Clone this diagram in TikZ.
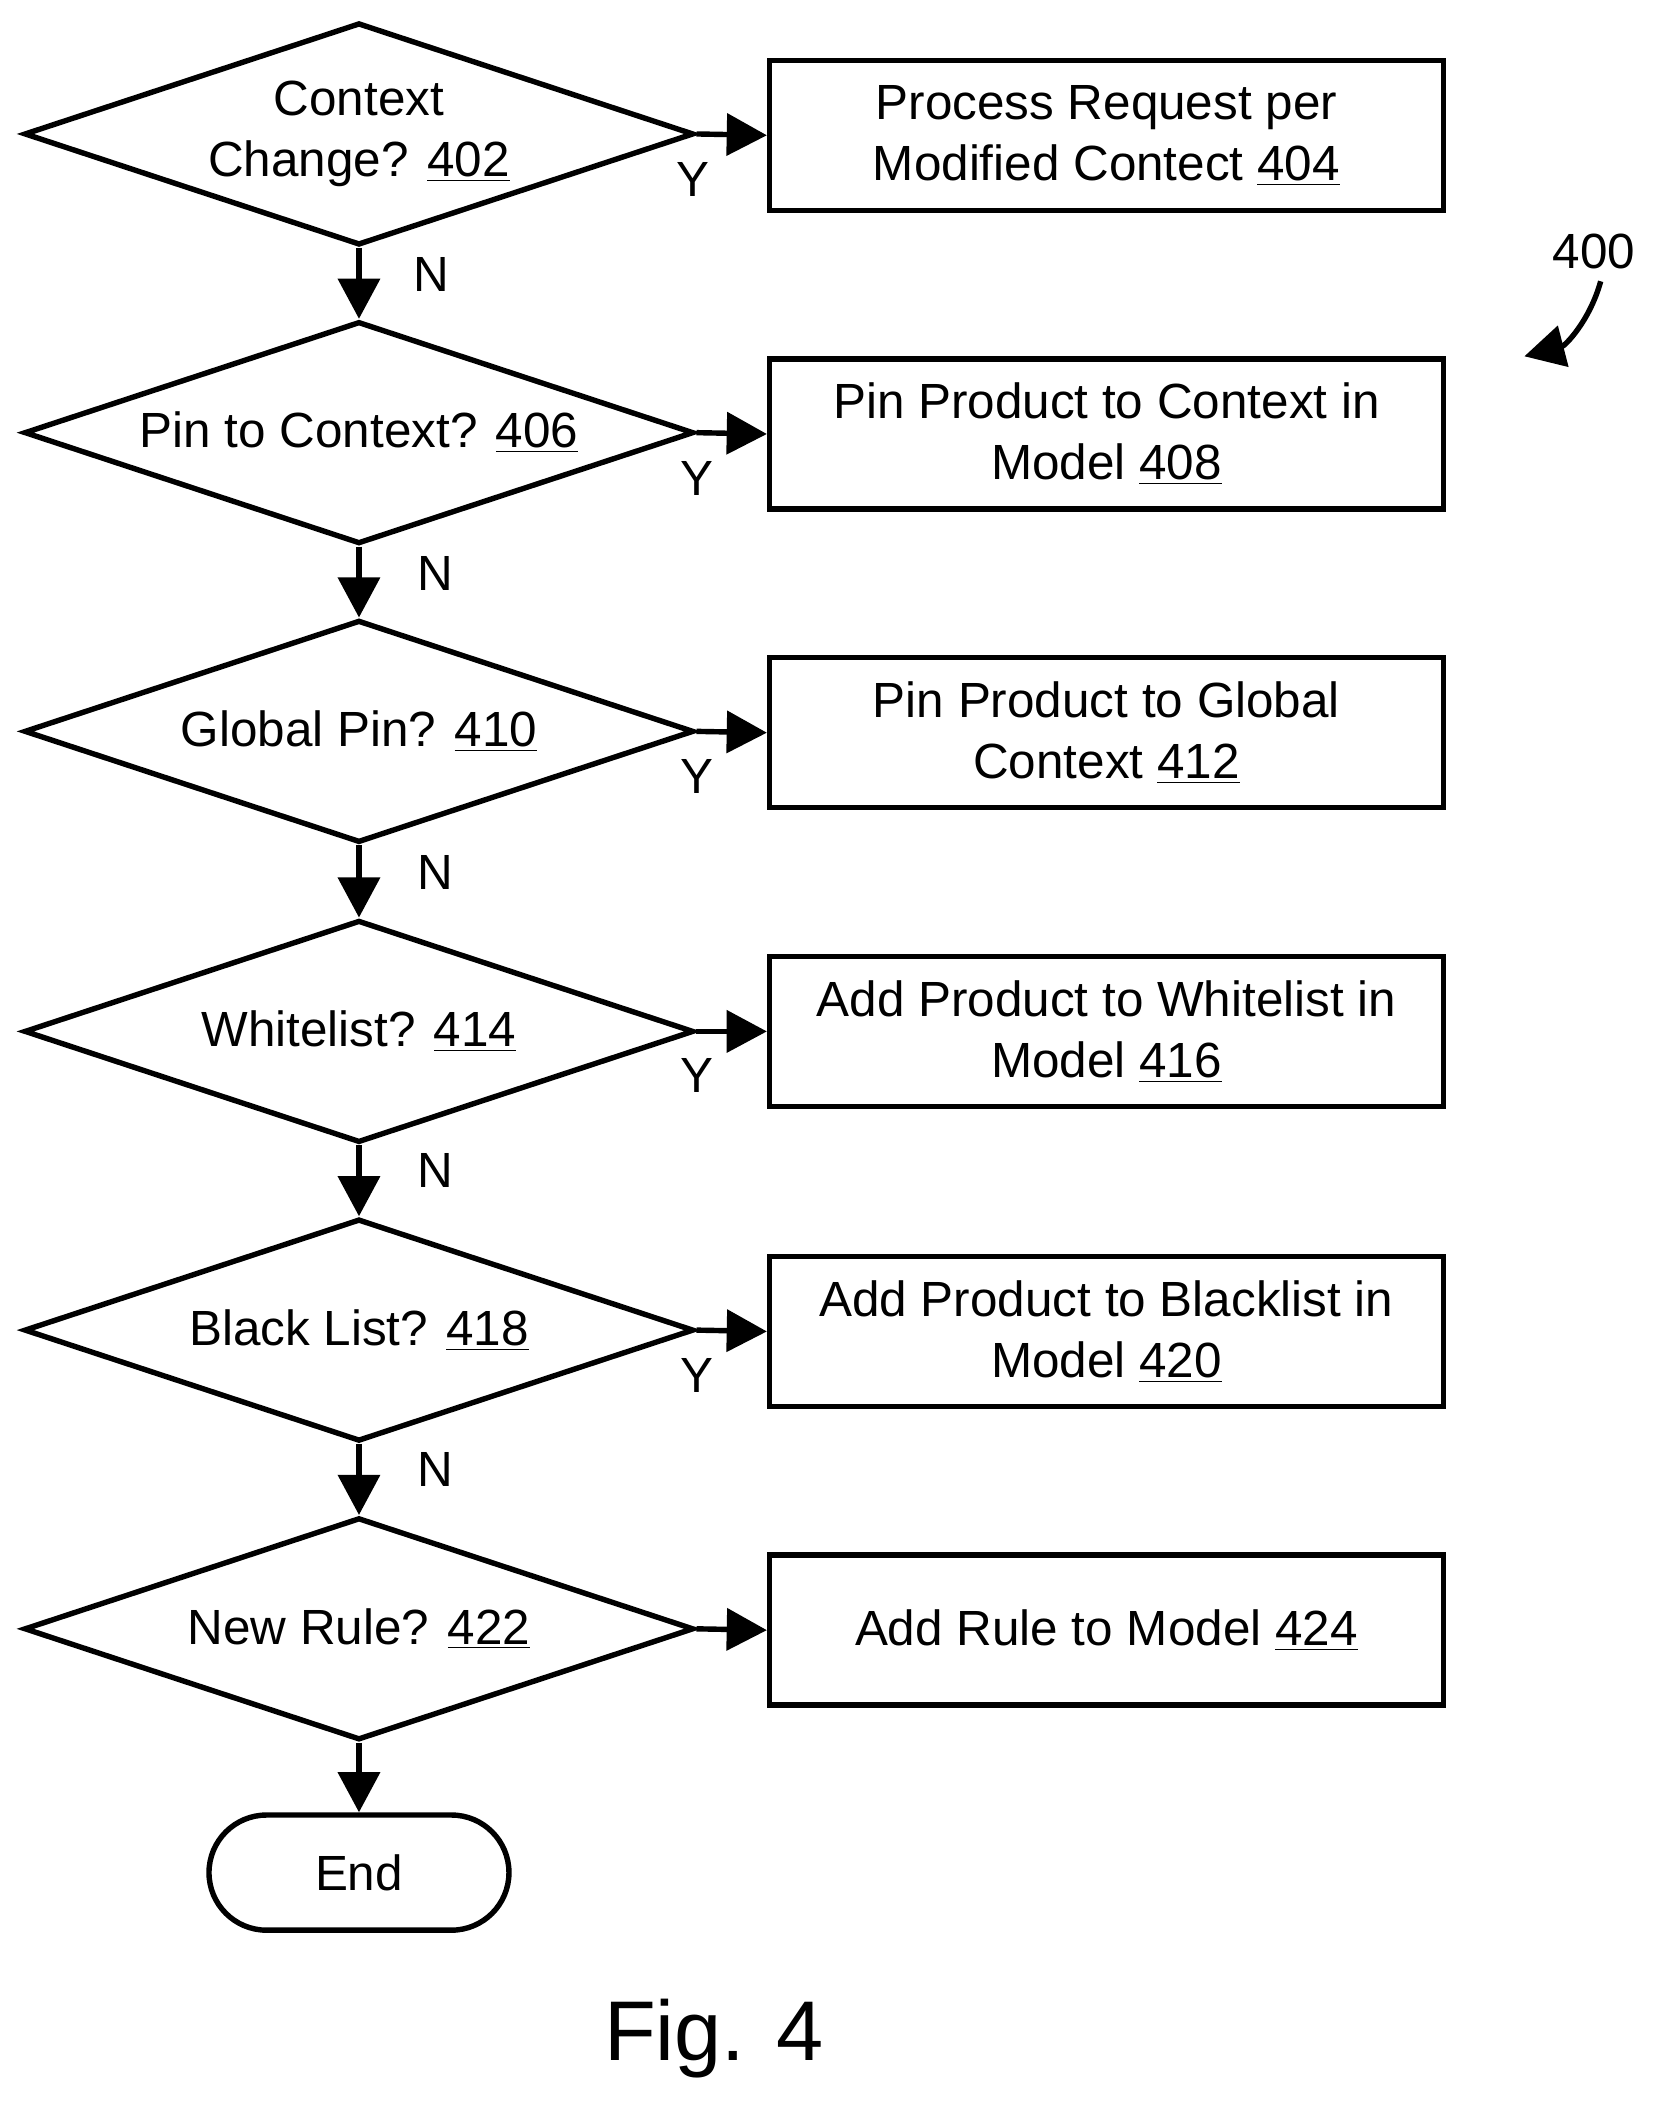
\documentclass[tikz,border=0pt]{standalone}
\usepackage{fontspec}
\setmainfont{Liberation Sans}
\usetikzlibrary{shapes.geometric,arrows.meta}
\tikzset{
  dec/.style={draw, diamond, line width=2.3pt, minimum width=10cm, minimum height=3.32cm, inner sep=0pt},
  blk/.style={draw, rectangle, line width=2.3pt, minimum width=10.06cm, minimum height=2.24cm, align=center},
  flow/.style={line width=2.3pt, -{Triangle[length=0.6cm,width=0.62cm]}},
  lbl/.style={font=\fontsize{21}{26}\selectfont}
}
\begin{document}
\begin{tikzpicture}[x=0.02cm,y=-0.02cm,lbl]
\useasboundingbox (0,0) rectangle (1240,1573);

\node[dec, label={[align=center]center:Context\\Change? \underline{402}}] (d402) at (268,100) {};
\node[dec, label={center:Pin to Context? \underline{406}}] (d406) at (268,323) {};
\node[dec, label={center:Global Pin? \underline{410}}] (d410) at (268,546) {};
\node[dec, label={center:Whitelist? \underline{414}}] (d414) at (268,770) {};
\node[dec, label={center:Black List? \underline{418}}] (d418) at (268,993) {};
\node[dec, label={center:New Rule? \underline{422}}] (d422) at (268,1216) {};
\node[draw, rounded corners=0.86cm, line width=2.3pt, minimum width=4.48cm, minimum height=1.72cm] (end) at (268,1398) {End};

\node[blk] (b404) at (826,101) {Process Request per\\Modified Contect \underline{404}};
\node[blk] (b408) at (826,324) {Pin Product to Context in\\Model \underline{408}};
\node[blk] (b412) at (826,547) {Pin Product to Global\\Context \underline{412}};
\node[blk] (b416) at (826,770) {Add Product to Whitelist in\\Model \underline{416}};
\node[blk] (b420) at (826,994) {Add Product to Blacklist in\\Model \underline{420}};
\node[blk] (b424) at (826,1217) {Add Rule to Model \underline{424}};

\draw[flow] (d402.east) -- (b404.west);
\draw[flow] (d406.east) -- (b408.west);
\draw[flow] (d410.east) -- (b412.west);
\draw[flow] (d414.east) -- (b416.west);
\draw[flow] (d418.east) -- (b420.west);
\draw[flow] (d422.east) -- (b424.west);

\draw[flow] (d402.south) -- (d406.north);
\draw[flow] (d406.south) -- (d410.north);
\draw[flow] (d410.south) -- (d414.north);
\draw[flow] (d414.south) -- (d418.north);
\draw[flow] (d418.south) -- (d422.north);
\draw[flow] (d422.south) -- (end.north);

\node (y402) at (517,134) {Y};
\node (y406) at (520,357) {Y};
\node (y410) at (520,580) {Y};
\node (y414) at (520,803) {Y};
\node (y418) at (520,1027) {Y};

\node (n402) at (322,205) {N};
\node (n406) at (325,428) {N};
\node (n410) at (325,651) {N};
\node (n414) at (325,874) {N};
\node (n418) at (325,1097) {N};

\node (ref) at (1190,188) {400};
\coordinate (tip) at (1138,266);
\draw[line width=2.3pt, -{Triangle[length=0.6cm,width=0.62cm]}] (1195,210) to[bend left=30] (tip);

\node[font=\fontsize{36}{43}\selectfont] (fig) at (533,1522) {Fig. 4};
\end{tikzpicture}
\end{document}
